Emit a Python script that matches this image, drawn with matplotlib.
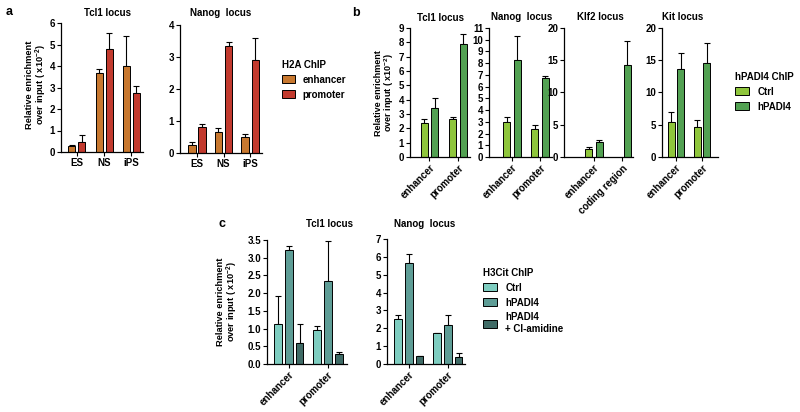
import matplotlib
matplotlib.use("Agg")
import matplotlib.pyplot as plt
import numpy as np

plt.rcParams['font.family'] = ['Liberation Sans', 'DejaVu Sans']
plt.rcParams['font.size'] = 7
plt.rcParams['font.weight'] = 'bold'
plt.rcParams['mathtext.fontset'] = 'custom'
plt.rcParams['mathtext.rm'] = 'Liberation Sans:bold'
plt.rcParams['mathtext.default'] = 'rm'

# ---- panel a: H2A ChIP ----
a_groups = ['ES', 'NS', 'iPS']
a_tcl1_enh = [0.28, 3.67, 4.0]
a_tcl1_enh_err = [0.05, 0.19, 1.4]
a_tcl1_prom = [0.47, 4.79, 2.74]
a_tcl1_prom_err = [0.32, 0.74, 0.33]
a_nanog_enh = [0.25, 0.66, 0.5]
a_nanog_enh_err = [0.08, 0.12, 0.09]
a_nanog_prom = [0.81, 3.34, 2.9]
a_nanog_prom_err = [0.09, 0.12, 0.68]
a_series = ['enhancer', 'promoter']

# ---- panel b: hPADI4 ChIP ----
b_groups = ['enhancer', 'promoter']
b_klf2_groups = ['enhancer', 'coding region']
b_tcl1_ctrl = [2.37, 2.65]
b_tcl1_ctrl_err = [0.28, 0.15]
b_tcl1_hpadi4 = [3.4, 7.9]
b_tcl1_hpadi4_err = [0.75, 0.7]
b_nanog_ctrl = [3.0, 2.4]
b_nanog_ctrl_err = [0.4, 0.35]
b_nanog_hpadi4 = [8.25, 6.7]
b_nanog_hpadi4_err = [2.1, 0.2]
b_klf2_ctrl = [1.25, np.nan]
b_klf2_ctrl_err = [0.35, np.nan]
b_klf2_hpadi4 = [2.4, 14.2]
b_klf2_hpadi4_err = [0.3, 3.8]
b_kit_ctrl = [5.5, 4.7]
b_kit_ctrl_err = [1.5, 1.0]
b_kit_hpadi4 = [13.6, 14.5]
b_kit_hpadi4_err = [2.6, 3.1]
b_series = ['Ctrl', 'hPADI4']

# ---- panel c: H3Cit ChIP ----
c_groups = ['enhancer', 'promoter']
c_tcl1_ctrl = [1.13, 0.96]
c_tcl1_ctrl_err = [0.79, 0.11]
c_tcl1_hpadi4 = [3.22, 2.33]
c_tcl1_hpadi4_err = [0.11, 1.14]
c_tcl1_cl = [0.6, 0.28]
c_tcl1_cl_err = [0.53, 0.05]
c_nanog_ctrl = [2.52, 1.72]
c_nanog_ctrl_err = [0.22, 0.04]
c_nanog_hpadi4 = [5.67, 2.18]
c_nanog_hpadi4_err = [0.49, 0.56]
c_nanog_cl = [0.45, 0.38]
c_nanog_cl_err = [0.02, 0.22]
c_series = ['Ctrl', 'hPADI4', 'hPADI4\n+ Cl-amidine']

a_colors = ['#C8782F', '#C23A2E']
b_colors = ['#8FC63C', '#52A152']
c_colors = ['#7ECDC0', '#5E9D96', '#3F6B66']

W, H = 800, 412
fig = plt.figure(figsize=(W / 100, H / 100), dpi=100)


def px(x, y):
    return x / W, 1 - y / H


def make_ax(x0, x1, ytop, ybot):
    ax = fig.add_axes([x0 / W, 1 - ybot / H, (x1 - x0) / W, (ybot - ytop) / H])
    for s in ['top', 'right']:
        ax.spines[s].set_visible(False)
    for s in ['left', 'bottom']:
        ax.spines[s].set_linewidth(0.9)
    ax.tick_params(length=3, width=0.8, pad=1.2, labelsize=7)
    return ax


def draw_bars(ax, groups, series, errs, colors, offsets, width, xlim, ylim, yticks,
              rotate=False, fmt=None):
    x = np.arange(len(groups))
    bars = []
    for vals, err, col, off in zip(series, errs, colors, offsets):
        vals = np.asarray(vals, float)
        err = np.asarray(err, float)
        ok = ~np.isnan(vals)
        b = ax.bar(x[ok] + off, vals[ok], width, color=col, edgecolor='black',
                   linewidth=0.7, zorder=2)
        ax.errorbar(x[ok] + off, vals[ok], yerr=[np.zeros(ok.sum()), err[ok]],
                    fmt='none', ecolor='black', elinewidth=0.8, capsize=2.2,
                    capthick=0.8, zorder=1)
        bars.append(b)
    ax.set_xlim(*xlim)
    ax.set_ylim(*ylim)
    ax.set_yticks(yticks)
    if fmt:
        ax.set_yticklabels([fmt % t for t in yticks])
    ax.set_xticks(x)
    if rotate:
        ax.set_xticklabels(groups, rotation=45, ha='right', rotation_mode='anchor')
    else:
        ax.set_xticklabels(groups)
    return bars


def title(x, y, s):
    fig.text(*px(x, y), s, ha='center', va='center', fontsize=7)


ylab = 'Relative enrichment\nover input ( x10$^{-2}$)'


def ylabel(x, y, size=6.7):
    fig.text(*px(x, y), ylab, ha='center', va='center', rotation=90,
             fontsize=size, linespacing=1.0)


def legend(handles, labels, ttl, x, y, hl):
    leg = fig.legend(handles, labels, title=ttl, loc='upper left',
                     bbox_to_anchor=px(x, y), frameon=False, borderpad=0,
                     handlelength=hl, handleheight=0.9, handletextpad=0.8,
                     labelspacing=0.5, fontsize=7, title_fontsize=7)
    leg._legend_box.align = 'left'
    leg.get_title().set_fontweight('bold')
    return leg


# panel a
ax = make_ax(61, 143, 23, 152)
bars_a = draw_bars(ax, a_groups, [a_tcl1_enh, a_tcl1_prom],
                   [a_tcl1_enh_err, a_tcl1_prom_err], a_colors, [-0.185, 0.185], 0.26,
                   (-0.59, 2.44), (0, 6), range(0, 7))
title(108, 13, 'Tcl1 locus')
ax = make_ax(180, 262, 25, 153)
draw_bars(ax, a_groups, [a_nanog_enh, a_nanog_prom],
          [a_nanog_enh_err, a_nanog_prom_err], a_colors, [-0.19, 0.19], 0.27,
          (-0.64, 2.45), (0, 4), range(0, 5))
title(221, 13, 'Nanog  locus')
ylabel(37, 85)
fig.text(*px(9, 12), 'a', ha='center', va='center', fontsize=9)
legend(bars_a, a_series, 'H2A ChIP', 277, 55, 1.3)

# panel b
off_b = [-0.18, 0.18]
ax = make_ax(410, 470, 28, 157)
bars_b = draw_bars(ax, b_groups, [b_tcl1_ctrl, b_tcl1_hpadi4],
                   [b_tcl1_ctrl_err, b_tcl1_hpadi4_err], b_colors, off_b, 0.25,
                   (-0.68, 1.42), (0, 9), range(0, 10), rotate=True)
title(440, 18, 'Tcl1 locus')
ax = make_ax(489, 552, 28, 157)
draw_bars(ax, b_groups, [b_nanog_ctrl, b_nanog_hpadi4],
          [b_nanog_ctrl_err, b_nanog_hpadi4_err], b_colors, off_b, 0.25,
          (-0.82, 1.43), (0, 11), range(0, 12), rotate=True)
title(522, 17, 'Nanog  locus')
ax = make_ax(564, 633, 28, 157)
draw_bars(ax, b_klf2_groups, [b_klf2_ctrl, b_klf2_hpadi4],
          [b_klf2_ctrl_err, b_klf2_hpadi4_err], b_colors, off_b, 0.25,
          (-1.07, 1.39), (0, 20), range(0, 21, 5), rotate=True)
title(600, 17, 'Klf2 locus')
ax = make_ax(662, 718, 28, 157)
draw_bars(ax, b_groups, [b_kit_ctrl, b_kit_hpadi4],
          [b_kit_ctrl_err, b_kit_hpadi4_err], b_colors, off_b, 0.27,
          (-0.54, 1.62), (0, 20), range(0, 21, 5), rotate=True)
title(683, 17, 'Kit locus')
ylabel(385, 93, 6.5)
fig.text(*px(356, 13), 'b', ha='center', va='center', fontsize=9)
legend(bars_b, b_series, 'hPADI4 ChIP', 730, 67, 1.5)

# panel c
off_c = [-0.28, 0.0, 0.28]
ax = make_ax(267, 347, 240, 364)
bars_c = draw_bars(ax, c_groups, [c_tcl1_ctrl, c_tcl1_hpadi4, c_tcl1_cl],
                   [c_tcl1_ctrl_err, c_tcl1_hpadi4_err, c_tcl1_cl_err], c_colors,
                   off_c, 0.19, (-0.56, 1.49), (0, 3.5), np.arange(0, 3.51, 0.5),
                   rotate=True, fmt='%.1f')
title(330, 224, 'Tcl1 locus')
ax = make_ax(387, 465, 239, 364)
draw_bars(ax, c_groups, [c_nanog_ctrl, c_nanog_hpadi4, c_nanog_cl],
          [c_nanog_ctrl_err, c_nanog_hpadi4_err, c_nanog_cl_err], c_colors,
          off_c, 0.19, (-0.56, 1.44), (0, 7), range(0, 8), rotate=True)
title(425, 224, 'Nanog  locus')
ylabel(228, 302)
fig.text(*px(222, 224), 'c', ha='center', va='center', fontsize=9)
legend(bars_c, c_series, 'H3Cit ChIP', 478, 263, 1.5)

fig.savefig('out.png', dpi=100)
